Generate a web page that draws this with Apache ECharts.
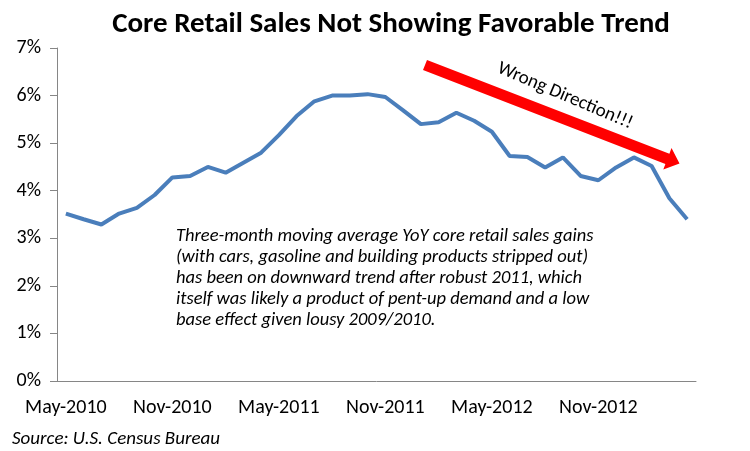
<!DOCTYPE html>
<html>
<head>
<meta charset="utf-8">
<script src="https://cdn.jsdelivr.net/npm/echarts@6/dist/echarts.min.js"></script>
<style>
html,body{margin:0;padding:0;background:#fff;}
#chart{width:750px;height:451px;}
</style>
</head>
<body>
<div id="chart"></div>
<script>
var months = ['May','Jun','Jul','Aug','Sep','Oct','Nov','Dec','Jan','Feb','Mar','Apr'];
var categories = [];
(function(){
  var y = 2010, m = 0;
  for (var i = 0; i < 36; i++) {
    categories.push(months[m] + '-' + y);
    m++;
    if (m === 8) { y++; }
    if (m === 12) { m = 0; }
  }
})();
var coreSalesYoY = [3.52, 3.40, 3.29, 3.52, 3.64, 3.91, 4.28, 4.31, 4.50, 4.38, 4.59, 4.80,
                    5.17, 5.57, 5.88, 6.00, 6.00, 6.03, 5.97, 5.69, 5.40, 5.44, 5.64, 5.47,
                    5.24, 4.73, 4.71, 4.49, 4.70, 4.31, 4.22, 4.49, 4.70, 4.52, 3.84, 3.40];
var titleText = 'Core Retail Sales Not Showing Favorable Trend';
var noteLines = [
  'Three-month moving average YoY core retail sales gains',
  '(with cars, gasoline and building products stripped out)',
  'has been on downward trend after robust 2011, which',
  'itself was likely a product of pent-up demand and a low',
  'base effect given lousy 2009/2010.'
];
var arrowText = 'Wrong Direction!!!';
var sourceText = 'Source: U.S. Census Bureau';

var chart = echarts.init(document.getElementById('chart'));
var FONT = 'Carlito, Lato, "Liberation Sans", Arial, sans-serif';
chart.setOption({
  animation: false,
  backgroundColor: '#ffffff',
  title: {
    text: titleText,
    left: 386,
    top: 5,
    textAlign: 'center',
    textStyle: { fontFamily: FONT, fontWeight: 'bold', fontSize: 29, color: '#000' }
  },
  grid: { left: 57, top: 48, width: 639, height: 333, containLabel: false },
  xAxis: {
    type: 'category',
    data: categories,
    boundaryGap: true,
    axisLine: { lineStyle: { color: '#868686', width: 1 } },
    axisTick: { show: false },
    axisLabel: {
      interval: 5,
      margin: 17,
      color: '#000',
      fontFamily: FONT,
      fontSize: 20
    },
    splitLine: { show: false }
  },
  yAxis: {
    type: 'value',
    min: 0,
    max: 7,
    interval: 1,
    axisLine: { show: true, lineStyle: { color: '#868686', width: 1 } },
    axisTick: { show: true, length: 7, lineStyle: { color: '#868686' } },
    axisLabel: {
      margin: 16,
      color: '#000',
      fontFamily: FONT,
      fontSize: 20,
      formatter: '{value}%'
    },
    splitLine: { show: false }
  },
  series: [{
    type: 'line',
    data: coreSalesYoY,
    symbol: 'none',
    lineStyle: { color: '#4A7EBB', width: 4 },
    z: 3
  }],
  graphic: [
    {
      type: 'polygon',
      shape: {
        points: [[427.0, 59.9], [669.4, 153.7], [671.5, 148.1], [679.5, 163.5],
                 [663.3, 169.5], [665.4, 163.9], [423.0, 70.1]]
      },
      style: { fill: '#FF0000' },
      z: 10
    },
    {
      type: 'text',
      x: 565,
      y: 96,
      rotation: -23 * Math.PI / 180,
      style: {
        text: arrowText,
        fontFamily: FONT,
        fontSize: 19,
        fill: '#000',
        textAlign: 'center',
        textVerticalAlign: 'middle'
      },
      z: 10
    },
    {
      type: 'text',
      left: 176,
      top: 226,
      style: {
        text: noteLines.join('\n'),
        fontFamily: FONT,
        fontStyle: 'italic',
        fontSize: 18.5,
        lineHeight: 21,
        fill: '#000'
      },
      z: 10
    },
    {
      type: 'text',
      left: 12,
      top: 430,
      style: {
        text: sourceText,
        fontFamily: FONT,
        fontStyle: 'italic',
        fontSize: 19,
        fill: '#000'
      },
      z: 10
    }
  ]
});
</script>
</body>
</html>
